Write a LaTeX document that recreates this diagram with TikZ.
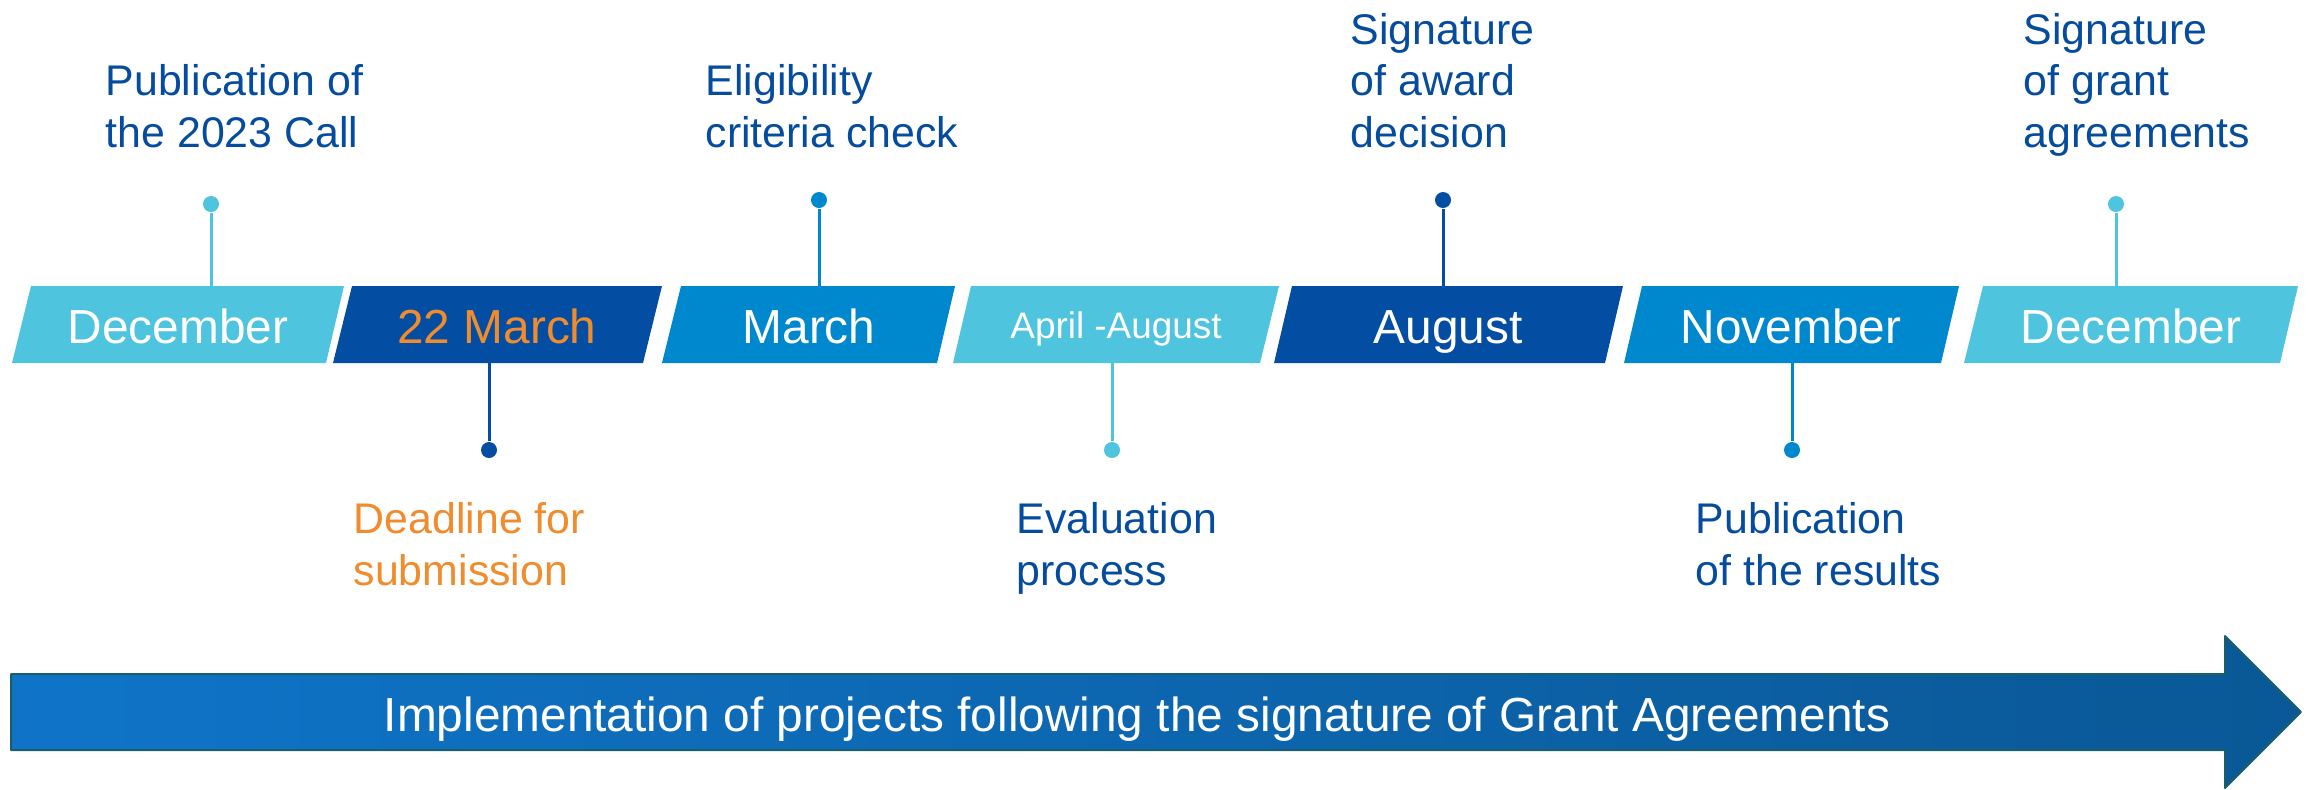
\documentclass[tikz,border=0pt]{standalone}
\usepackage{fontspec}
\setmainfont{Liberation Sans}
\begin{document}
\begin{tikzpicture}[x=0.1mm,y=-0.1mm,line join=round,
  lbl/.style={anchor=base west,align=left,inner sep=0pt,font=\fontsize{12.2}{14.6}\selectfont,text=lblblue},
  mon/.style={anchor=base,inner sep=0pt,text=white,font=\fontsize{13.6}{16}\selectfont},
  pin/.style={circle,inner sep=0pt,minimum size=1.6mm},
  stem/.style={line width=0.3mm}]
\definecolor{cyanlt}{RGB}{78,196,223}
\definecolor{bluedk}{RGB}{3,78,162}
\definecolor{bluemd}{RGB}{0,136,206}
\definecolor{orng}{RGB}{240,140,46}
\definecolor{lblblue}{RGB}{6,76,158}
\definecolor{arrowl}{RGB}{15,116,200}
\definecolor{arrowr}{RGB}{10,88,150}
\definecolor{arrowedge}{RGB}{26,94,108}

\useasboundingbox (0,0) rectangle (2313,789);

% month banner
\fill[cyanlt] (31,286) -- (344,286) -- (326,363) -- (12,363) -- cycle;
\fill[bluedk] (352,286) -- (662,286) -- (643,363) -- (333,363) -- cycle;
\fill[bluemd] (681,286) -- (955,286) -- (937,363) -- (662,363) -- cycle;
\fill[cyanlt] (971,286) -- (1279,286) -- (1260,363) -- (953,363) -- cycle;
\fill[bluedk] (1292,286) -- (1623,286) -- (1605,363) -- (1274,363) -- cycle;
\fill[bluemd] (1642,286) -- (1959,286) -- (1941,363) -- (1624,363) -- cycle;
\fill[cyanlt] (1983,286) -- (2298,286) -- (2280,363) -- (1964,363) -- cycle;

\node[mon] (dec) at (178,343) {December};
\node[mon,text=orng] (mar22) at (497,343) {22 March};
\node[mon] (mar) at (809,343) {March};
\node[mon,font=\fontsize{10.5}{12}\selectfont] (apraug) at (1116,338) {April -August};
\node[mon] (aug) at (1448,343) {August};
\node[mon] (nov) at (1791,343) {November};
\node[mon] (decb) at (2131,343) {December};

% pins above
\coordinate (dectop) at (211,286);
\coordinate (martop) at (819,286);
\coordinate (augtop) at (1443,286);
\coordinate (decbtop) at (2116,286);
\node[pin,fill=cyanlt] (decpin) at (211,204) {};
\node[pin,fill=bluemd] (marpin) at (819,200) {};
\node[pin,fill=bluedk] (augpin) at (1443,200) {};
\node[pin,fill=cyanlt] (decbpin) at (2116,204) {};
\draw[stem,cyanlt] (decpin) -- (dectop);
\draw[stem,bluemd] (marpin) -- (martop);
\draw[stem,bluedk] (augpin) -- (augtop);
\draw[stem,cyanlt] (decbpin) -- (decbtop);

% pins below
\coordinate (mar22bot) at (489,363);
\coordinate (aprbot) at (1112,363);
\coordinate (novbot) at (1792,363);
\node[pin,fill=bluedk] (mar22pin) at (489,450) {};
\node[pin,fill=cyanlt] (aprpin) at (1112,450) {};
\node[pin,fill=bluemd] (novpin) at (1792,450) {};
\draw[stem,bluedk] (mar22pin) -- (mar22bot);
\draw[stem,cyanlt] (aprpin) -- (aprbot);
\draw[stem,bluemd] (novpin) -- (novbot);

% labels (anchored at the baseline of their last line)
\node[lbl] (pubcall) at (105,147) {Publication of\\the 2023 Call};
\node[lbl] (elig) at (705,147) {Eligibility\\criteria check};
\node[lbl] (award) at (1350,147) {Signature\\of award\\decision};
\node[lbl] (grant) at (2023,147) {Signature\\of grant\\agreements};
\node[lbl,text=orng] (deadline) at (353,585) {Deadline for\\submission};
\node[lbl] (evalp) at (1016,585) {Evaluation\\process};
\node[lbl] (pubres) at (1695,585) {Publication\\of the results};

% implementation arrow
\draw[line width=0.2mm,draw=arrowedge,left color=arrowl,right color=arrowr]
  (11,674) -- (2225,674) -- (2225,636) -- (2301,712) -- (2225,788) -- (2225,750) -- (11,750) -- cycle;
\node[mon] (impl) at (1137,731) {Implementation of projects following the signature of Grant Agreements};
\end{tikzpicture}
\end{document}
